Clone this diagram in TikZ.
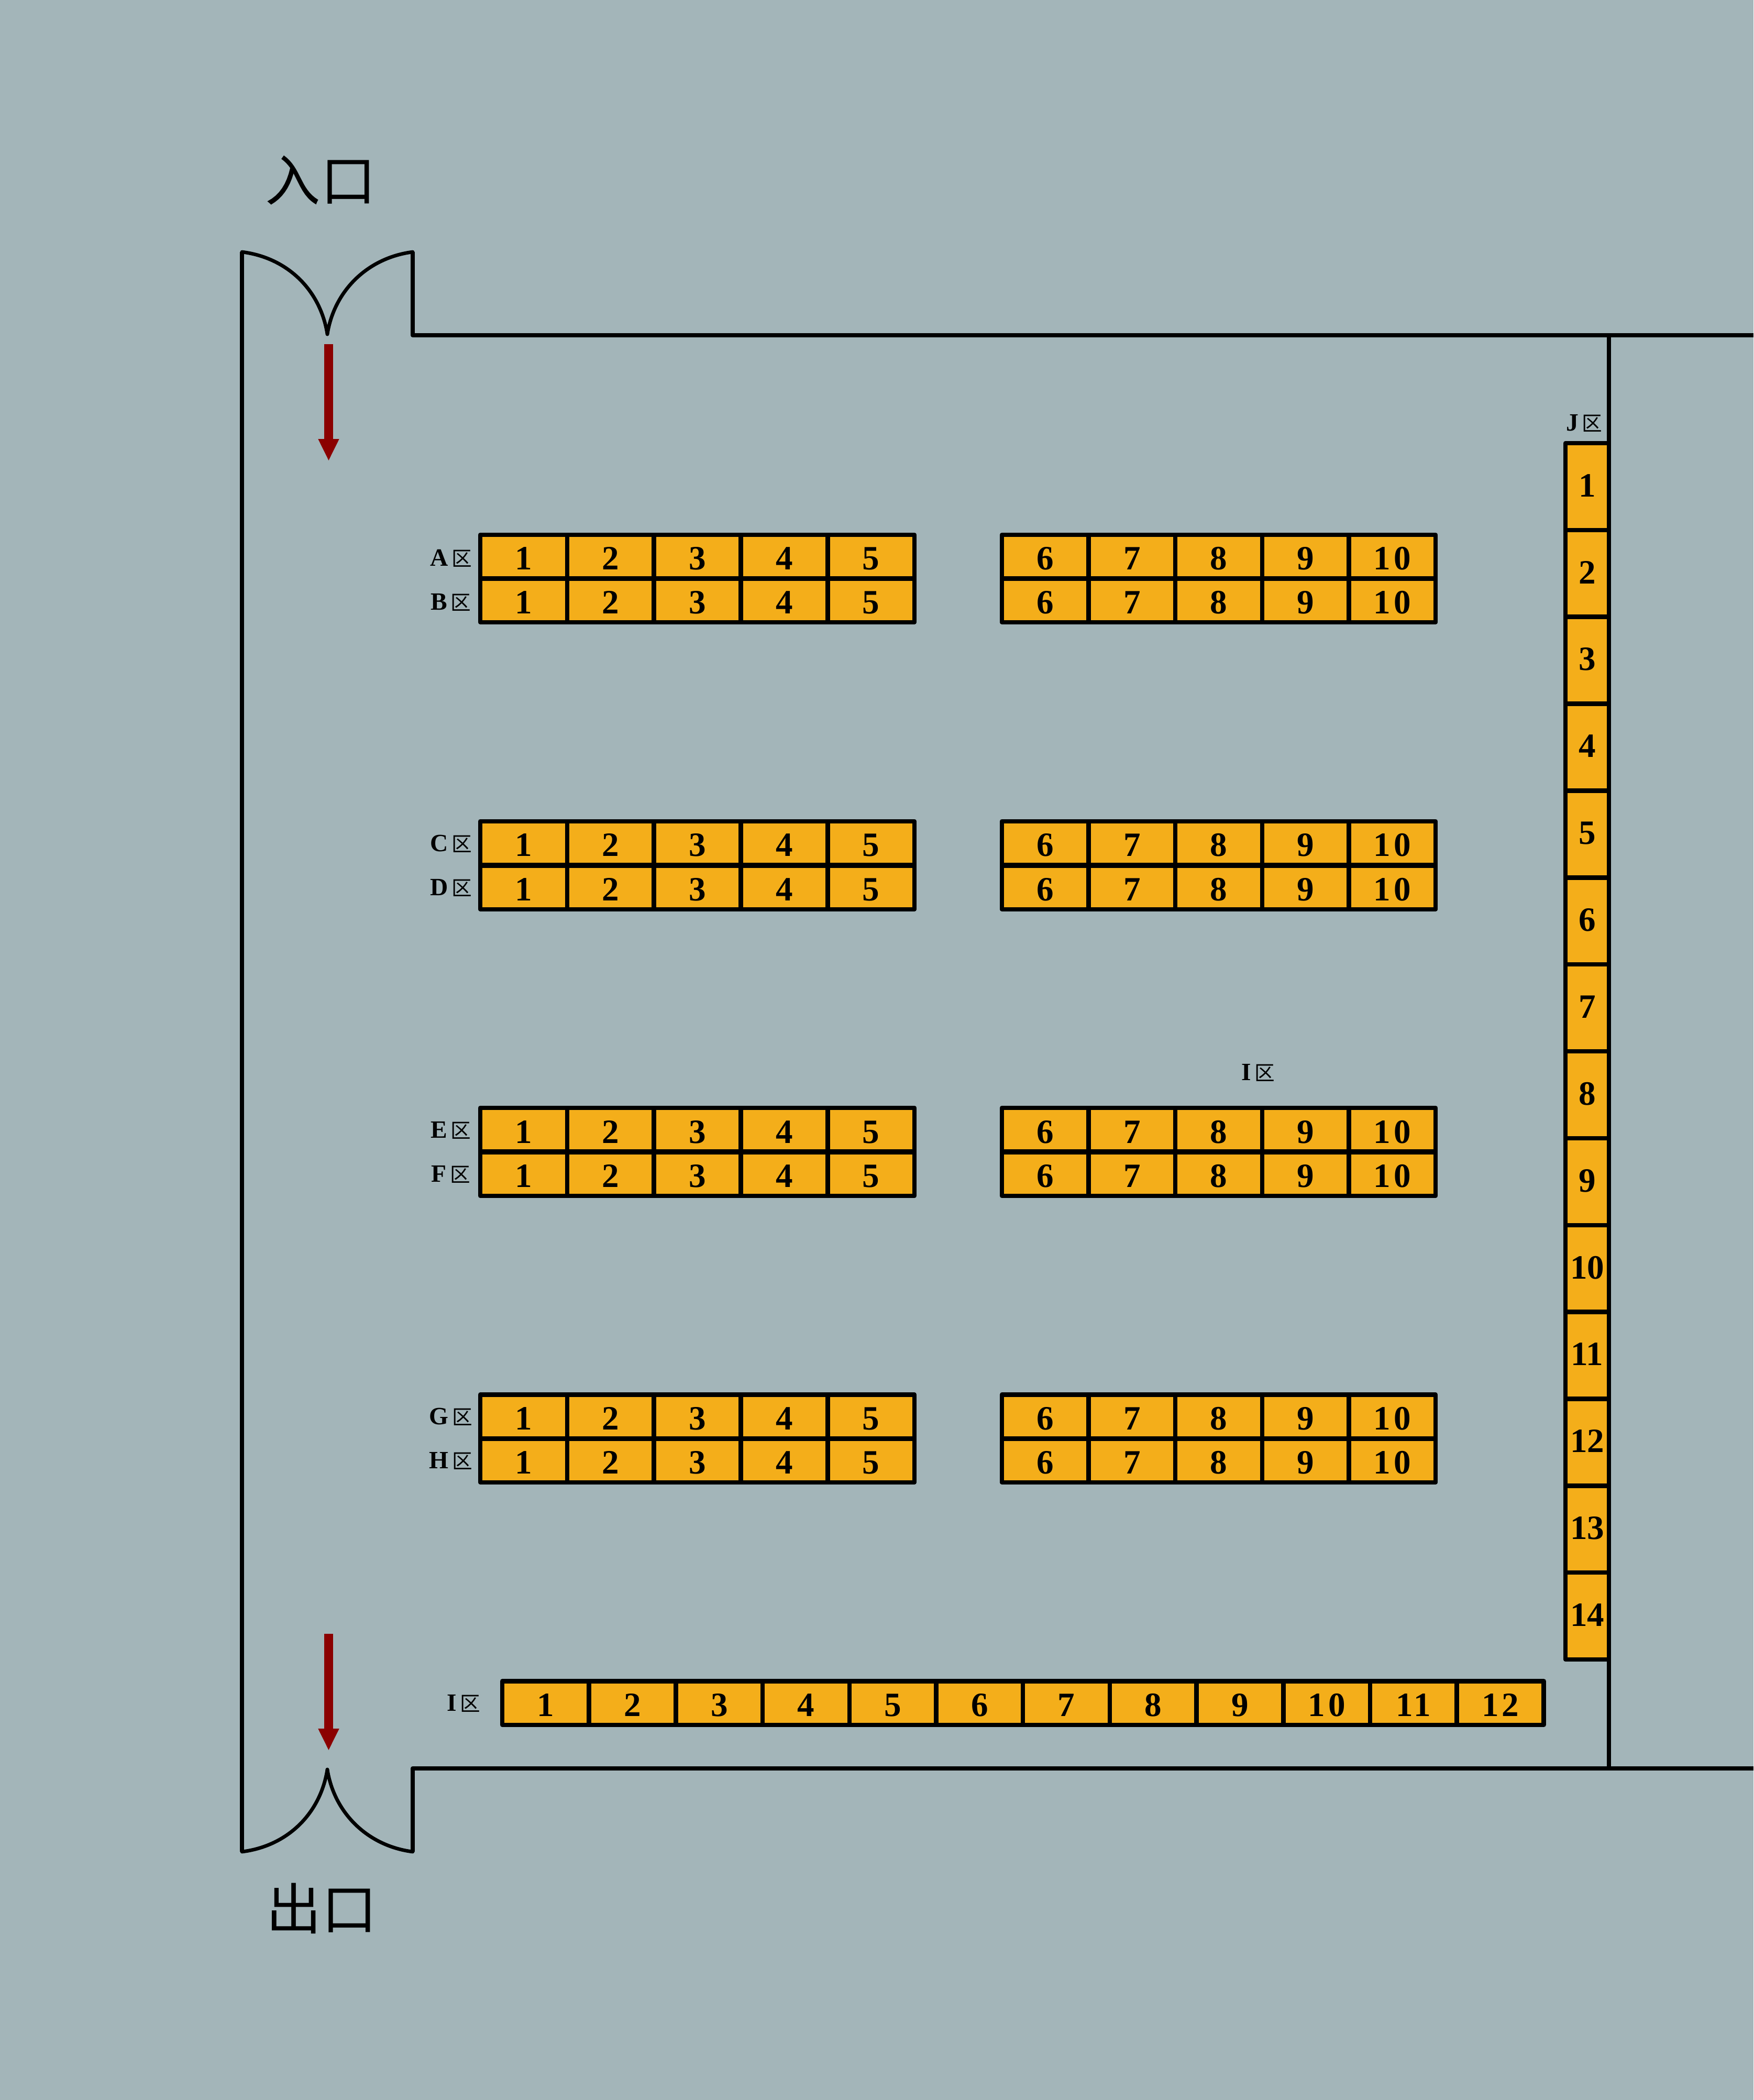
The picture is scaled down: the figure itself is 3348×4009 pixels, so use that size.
\documentclass[tikz,border=0pt]{standalone}
\usepackage{fontspec}
\usetikzlibrary{arrows.meta}
\usetikzlibrary{positioning}
\newfontfamily\cjk{Noto Sans CJK SC}
\newfontfamily\seatfont[LetterSpace=9]{Liberation Serif}
\newfontfamily\colfont{Liberation Serif}
\definecolor{hallgray}{HTML}{A3B5B9}
\definecolor{seatorange}{HTML}{F4AE1A}
\definecolor{flowred}{HTML}{8B0000}
\newcommand{\zone}[1]{#1\hspace{0.14em}{\cjk\mdseries\fontsize{22}{22}\selectfont 区}}

\begin{document}
\begin{tikzpicture}[x=0.2mm,y=-0.2mm,
    seat node/.style={rectangle,draw=black,fill=seatorange,line width=1.7mm,line join=round,inner sep=0pt,outer sep=0pt,minimum width=33.14mm,minimum height=16.7mm,text height=29pt,text depth=0pt,font=\seatfont\bfseries\fontsize{37}{37}\selectfont},
    col node/.style={seat node,minimum width=16.6mm,minimum height=33.17mm,text height=22pt,font=\colfont\bfseries\fontsize{37}{37}\selectfont},
    zone label/.style={inner sep=0pt,font=\colfont\bfseries\fontsize{27}{27}\selectfont},
    door label/.style={inner sep=0pt,font=\cjk\fontsize{60}{60}\selectfont},
    wall/.style={line width=1.75mm,line join=round},
    door leaf/.style={line width=1.35mm,line cap=round},
    flow/.style={-{Triangle[width=7.4mm,length=8.4mm]},line width=3.4mm,color=flowred}]
    \useasboundingbox (0,0) rectangle (3348,4009);
    \fill[hallgray] (0,0) rectangle (3348,4009);

    % outer walls and doors
    \draw[wall] (788,481) -- (788,640) -- (3348,640);
    \draw[wall] (788,3535) -- (788,3376) -- (3348,3376);
    \draw[wall,line width=1.55mm] (462,481) -- (462,3535);
    \draw[wall,line width=1.55mm] (3072,640) -- (3072,3376);
    \draw[door leaf] (462,481) .. controls (550,492) and (612,555) .. (625,638);
    \draw[door leaf] (788,481) .. controls (702,492) and (638,555) .. (625,638);
    \draw[door leaf] (462,3535) .. controls (550,3524) and (612,3461) .. (625,3378);
    \draw[door leaf] (788,3535) .. controls (702,3524) and (638,3461) .. (625,3378);

    \node[door label] (entry) at (612,344) {入口};
    \node[door label] (exit) at (614,3643) {出口};

    \coordinate (entry top) at (627.5,657);
    \coordinate (entry tip) at (627.5,880);
    \coordinate (exit top) at (627.5,3119);
    \coordinate (exit tip) at (627.5,3342);
    \draw[flow] (entry top) -- (entry tip);
    \draw[flow] (exit top) -- (exit tip);

    % paired rows
    \foreach \rowname/\rowy in {a/1062.5,b/1146,c/1609.5,d/1694,e/2156.5,f/2241,g/2704,h/2788}{
      \foreach \i in {1,...,5}
        \node[seat node] (\rowname\i) at ({917+(\i-0.5)*165.8},\rowy) {\i};
      \foreach \i in {6,...,10}
        \node[seat node] (\rowname\i) at ({1913+(\i-5.5)*165.6},\rowy) {\i};
    }
    \node[zone label] (la) at (861,1066) {\zone{A}};
    \node[zone label] (lb) at (861,1150) {\zone{B}};
    \node[zone label] (lc) at (861,1611) {\zone{C}};
    \node[zone label] (ld) at (861,1695) {\zone{D}};
    \node[zone label] (le) at (861,2158) {\zone{E}};
    \node[zone label] (lf) at (861,2242) {\zone{F}};
    \node[zone label] (lg) at (861,2705) {\zone{G}};
    \node[zone label] (lh) at (861,2789) {\zone{H}};
    \node[zone label] (li) at (2402,2048) {\zone{I}};

    % bottom row
    \foreach \i in {1,...,12}
      \node[seat node] (i\i) at ({959+(\i-0.5)*165.7},3251) {\i};
    \node[zone label] (lk) at (885,3252) {\zone{I}};

    % right column
    \foreach \i in {1,...,14}
      \node[col node] (j\i) at (3030.5,{846+(\i-0.5)*165.86}) {\i};
    \node[zone label] (lj) at (3025,808) {\zone{J}};
  \end{tikzpicture}
\end{document}
